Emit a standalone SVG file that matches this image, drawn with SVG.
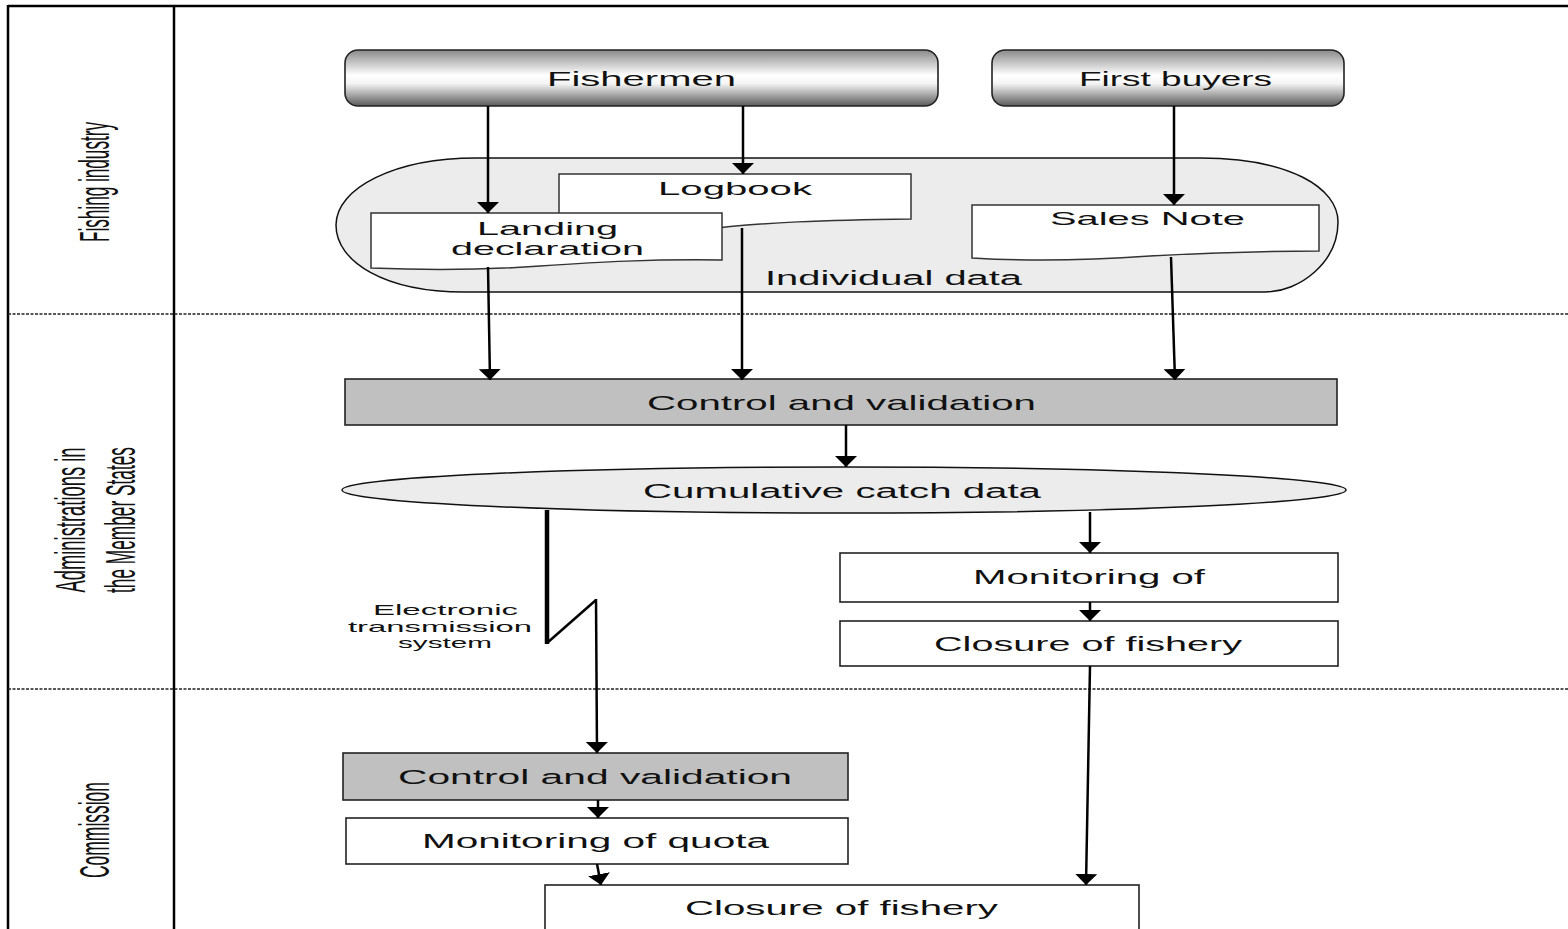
<svg xmlns="http://www.w3.org/2000/svg" width="1568" height="929" viewBox="0 0 1568 929">
<defs>
  <linearGradient id="gBtn" x1="0" y1="0" x2="0" y2="1">
    <stop offset="0" stop-color="#8a8a8a"/>
    <stop offset="0.45" stop-color="#ffffff"/>
    <stop offset="0.6" stop-color="#f4f4f4"/>
    <stop offset="1" stop-color="#5a5a5a"/>
  </linearGradient>
  <marker id="arr" viewBox="0 0 11 22" refX="11" refY="11" markerWidth="11" markerHeight="22" markerUnits="userSpaceOnUse" orient="auto">
    <path d="M0,0 L11,11 L0,22 Z" fill="#000"/>
  </marker>
  <style>
    .t { font-family: "Liberation Sans", Arial, sans-serif; fill: #111; }
    .lane { font-family: "Liberation Sans", Arial, sans-serif; fill: #111; font-size: 21px; }
    .frame { stroke: #000; stroke-width: 2.5; fill: none; }
    .sep { stroke: #222; stroke-width: 1.6; stroke-dasharray: 3 1.5; fill: none; }
    .btn { fill: url(#gBtn); stroke: #222; stroke-width: 1.6; }
    .doc { fill: #fff; stroke: #333; stroke-width: 1.5; }
    .soft { fill: #ececec; stroke: #111; stroke-width: 1.5; }
    .grey { fill: #c0c0c0; stroke: #222; stroke-width: 1.6; }
    .box { fill: #fff; stroke: #222; stroke-width: 1.6; }
    .conn { stroke: #000; stroke-width: 2.5; fill: none; }
    .conn-a { stroke: #000; stroke-width: 2.5; fill: none; marker-end: url(#arr); }
  </style>
</defs>

<g id="frame">
  <line class="frame" x1="8" y1="6" x2="1568" y2="6"/>
  <line class="frame" x1="8" y1="5" x2="8" y2="929"/>
  <line class="frame" x1="174" y1="5" x2="174" y2="929"/>
  <line class="sep" x1="8" y1="314" x2="1568" y2="314"/>
  <line class="sep" x1="8" y1="689" x2="1568" y2="689"/>
</g>

<g id="lane-labels">
  <text class="lane" transform="translate(109,182) rotate(-90) scale(1,2)" text-anchor="middle" textLength="120" lengthAdjust="spacingAndGlyphs">Fishing industry</text>
  <text class="lane" transform="translate(85,520) rotate(-90) scale(1,2)" text-anchor="middle" textLength="145" lengthAdjust="spacingAndGlyphs">Administrations in</text>
  <text class="lane" transform="translate(135,520) rotate(-90) scale(1,2)" text-anchor="middle" textLength="146" lengthAdjust="spacingAndGlyphs">the Member States</text>
  <text class="lane" transform="translate(109,830) rotate(-90) scale(1,2)" text-anchor="middle" textLength="96" lengthAdjust="spacingAndGlyphs">Commission</text>
</g>

<g id="individual-data">
  <path class="soft" d="M476,158 L1200,158 C1290,158 1338,188 1338,222 C1338,262 1300,292 1265,292 L464,292 C385,292 336,262 336,225 C336,188 395,158 476,158 Z"/>
  <text class="t" x="765" y="285" font-size="20" textLength="257" lengthAdjust="spacingAndGlyphs">Individual data</text>
</g>

<g id="fishermen">
  <rect class="btn" x="345" y="50" width="593" height="56" rx="13"/>
  <text class="t" x="547" y="86" font-size="19.5" textLength="189" lengthAdjust="spacingAndGlyphs">Fishermen</text>
</g>

<g id="first-buyers">
  <rect class="btn" x="992" y="50" width="352" height="56" rx="13"/>
  <text class="t" x="1079" y="86" font-size="19.5" textLength="193" lengthAdjust="spacingAndGlyphs">First buyers</text>
</g>

<g id="logbook">
  <path class="doc" d="M559,174 L911,174 L911,219 C830,220 760,222 700,230 C640,238 600,240 559,238 Z"/>
  <text class="t" x="658" y="194.5" font-size="19" textLength="154" lengthAdjust="spacingAndGlyphs">Logbook</text>
</g>

<g id="landing-declaration">
  <path class="doc" d="M371,213 L722,213 L722,260 C650,259 600,262 540,266 C470,271 420,270 371,268 Z"/>
  <text class="t" x="477" y="235" font-size="18.5" textLength="141" lengthAdjust="spacingAndGlyphs">Landing</text>
  <text class="t" x="451" y="254.5" font-size="18.5" textLength="193" lengthAdjust="spacingAndGlyphs">declaration</text>
</g>

<g id="sales-note">
  <path class="doc" d="M972,205 L1319,205 L1319,251 C1250,251 1200,253 1150,256 C1080,261 1020,261 972,258 Z"/>
  <text class="t" x="1050" y="225" font-size="19" textLength="195" lengthAdjust="spacingAndGlyphs">Sales Note</text>
</g>

<g id="ms-control">
  <rect class="grey" x="345" y="379" width="992" height="46"/>
  <text class="t" x="647" y="410" font-size="21" textLength="389" lengthAdjust="spacingAndGlyphs">Control and validation</text>
</g>

<g id="cumulative">
  <ellipse class="soft" cx="844" cy="490" rx="502" ry="23"/>
  <text class="t" x="643" y="498" font-size="20" textLength="398" lengthAdjust="spacingAndGlyphs">Cumulative catch data</text>
</g>

<g id="ms-monitoring">
  <rect class="box" x="840" y="553" width="498" height="49"/>
  <text class="t" x="973" y="584" font-size="20" textLength="232" lengthAdjust="spacingAndGlyphs">Monitoring of</text>
</g>

<g id="ms-closure">
  <rect class="box" x="840" y="621" width="498" height="45"/>
  <text class="t" x="934" y="651" font-size="20" textLength="308" lengthAdjust="spacingAndGlyphs">Closure of fishery</text>
</g>

<g id="transmission-label">
  <text class="t" x="373" y="615" font-size="14.5" textLength="145" lengthAdjust="spacingAndGlyphs">Electronic</text>
  <text class="t" x="348" y="632" font-size="14.5" textLength="184" lengthAdjust="spacingAndGlyphs">transmission</text>
  <text class="t" x="398" y="648" font-size="14.5" textLength="94" lengthAdjust="spacingAndGlyphs">system</text>
</g>

<g id="c-control">
  <rect class="grey" x="343" y="753" width="505" height="47"/>
  <text class="t" x="398" y="784" font-size="20.5" textLength="394" lengthAdjust="spacingAndGlyphs">Control and validation</text>
</g>

<g id="c-monitoring">
  <rect class="box" x="346" y="818" width="502" height="46"/>
  <text class="t" x="422" y="848" font-size="19.5" textLength="347" lengthAdjust="spacingAndGlyphs">Monitoring of quota</text>
</g>

<g id="c-closure">
  <rect class="box" x="545" y="885" width="594" height="60"/>
  <text class="t" x="685" y="915" font-size="20" textLength="313" lengthAdjust="spacingAndGlyphs">Closure of fishery</text>
</g>

<g id="connectors">
  <line class="conn-a" x1="488" y1="106" x2="488" y2="213"/>
  <line class="conn-a" x1="743" y1="106" x2="743" y2="174"/>
  <line class="conn-a" x1="1174" y1="106" x2="1174" y2="205"/>
  <line class="conn-a" x1="488" y1="267" x2="490" y2="380"/>
  <line class="conn-a" x1="742" y1="228" x2="742" y2="380"/>
  <line class="conn-a" x1="1171" y1="257" x2="1175" y2="380"/>
  <line class="conn-a" x1="846" y1="425" x2="846" y2="467"/>
  <line class="conn-a" x1="1090" y1="512" x2="1090" y2="553"/>
  <line class="conn-a" x1="1090" y1="602" x2="1090" y2="621"/>
  <line class="conn-a" x1="1090" y1="666" x2="1086" y2="885"/>
  <line x1="547" y1="510" x2="547" y2="644" stroke="#000" stroke-width="4.5"/>
  <polyline class="conn" points="547,643 596,600"/>
  <line class="conn-a" x1="596" y1="599" x2="597" y2="753"/>
  <line class="conn-a" x1="598" y1="800" x2="598" y2="818"/>
  <line class="conn-a" x1="597" y1="864" x2="601" y2="885"/>
</g>
</svg>
